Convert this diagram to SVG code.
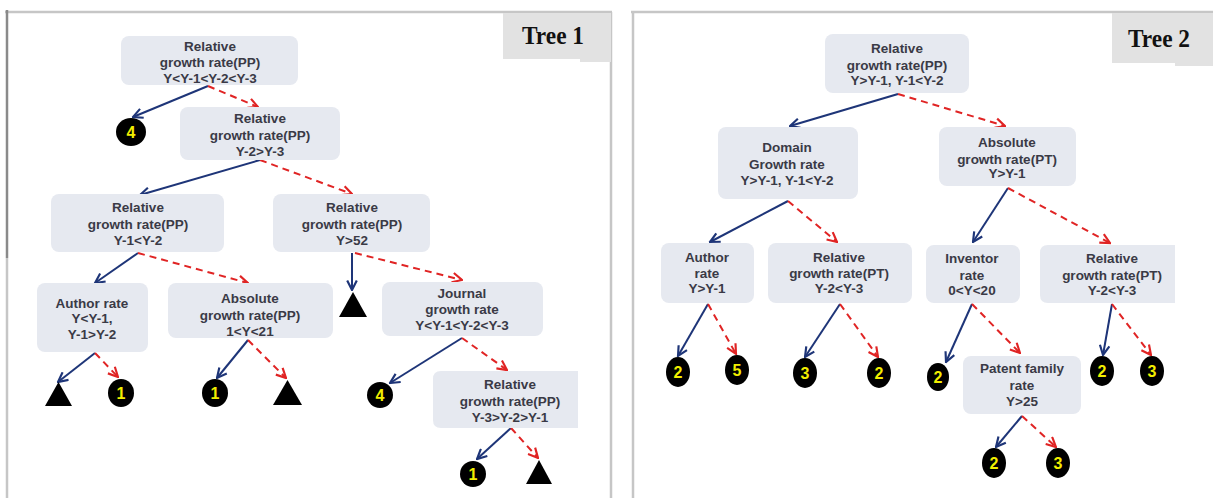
<svg xmlns="http://www.w3.org/2000/svg" width="1213" height="498" viewBox="0 0 1213 498">
<style>
.node rect{fill:#e6e9f0}
.node text{font-family:"Liberation Sans",Arial,sans-serif;font-size:13.5px;font-weight:bold;fill:#3a3a46;text-anchor:middle}
.blue{stroke:#1e3578;stroke-width:2;fill:none;marker-end:url(#ab)}
.red{stroke:#e02424;stroke-width:2;fill:none;stroke-dasharray:7 5;marker-end:url(#ar)}
.leaf ellipse{fill:#000}
.leaf text{font-family:"Liberation Sans",Arial,sans-serif;font-size:16px;font-weight:bold;fill:#f2ee00;text-anchor:middle}
.tri{fill:#000}
.label text{font-family:"Liberation Serif","Times New Roman",serif;font-weight:bold;font-size:26px;fill:#111}
.frame{stroke:#c6c6c6;stroke-width:2.5;fill:none}
</style>
<defs>
<marker id="ab" viewBox="0 0 10 10" refX="9" refY="5" markerWidth="12" markerHeight="12" markerUnits="userSpaceOnUse" orient="auto"><path d="M1,1 L9,5 L1,9" fill="none" stroke="#1e3578" stroke-width="1.8"/></marker>
<marker id="ar" viewBox="0 0 10 10" refX="9" refY="5" markerWidth="12" markerHeight="12" markerUnits="userSpaceOnUse" orient="auto"><path d="M1,1 L9,5 L1,9" fill="none" stroke="#e02424" stroke-width="1.8"/></marker>
</defs>
<rect width="1213" height="498" fill="#fff"/>
<g id="frames">
<path class="frame" d="M5,12 H612 M611,12 V498 M7,258 V498"/>
<path d="M7,10 V258" stroke="#8a8a8a" stroke-width="2.5"/>
<path class="frame" d="M631,12 H1213 M633,12 V498"/>
</g>
<g id="tree1-label" class="label">
<path d="M503,13 H611 V62 H580 V59 H503 Z" fill="#e2e2e2"/>
<text x="522" y="44" textLength="62" lengthAdjust="spacingAndGlyphs">Tree 1</text>
</g>
<g id="tree2-label" class="label">
<path d="M1112,13 H1213 V66 H1175 V63 H1112 Z" fill="#e2e2e2"/>
<text x="1128" y="47" textLength="62" lengthAdjust="spacingAndGlyphs">Tree 2</text>
</g>
<g id="connectors">
<line class="blue" x1="208" y1="86" x2="133" y2="117"/>
<line class="red" x1="208" y1="86" x2="258" y2="107"/>
<line class="blue" x1="260" y1="160" x2="140" y2="195"/>
<line class="red" x1="260" y1="160" x2="352" y2="194"/>
<line class="blue" x1="138" y1="253" x2="95" y2="283"/>
<line class="red" x1="138" y1="253" x2="248" y2="283"/>
<line class="blue" x1="352" y1="253" x2="352" y2="290"/>
<line class="red" x1="355" y1="253" x2="462" y2="280"/>
<line class="blue" x1="95" y1="353" x2="58" y2="382"/>
<line class="red" x1="95" y1="353" x2="118" y2="377"/>
<line class="blue" x1="248" y1="340" x2="217" y2="378"/>
<line class="red" x1="248" y1="340" x2="286" y2="378"/>
<line class="blue" x1="462" y1="338" x2="390" y2="383"/>
<line class="red" x1="462" y1="338" x2="507" y2="370"/>
<line class="blue" x1="511" y1="428" x2="477" y2="459"/>
<line class="red" x1="511" y1="428" x2="538" y2="458"/>
<line class="blue" x1="898" y1="94" x2="790" y2="126"/>
<line class="red" x1="898" y1="94" x2="1005" y2="126"/>
<line class="blue" x1="788" y1="201" x2="710" y2="242"/>
<line class="red" x1="788" y1="201" x2="837" y2="242"/>
<line class="blue" x1="1008" y1="188" x2="973" y2="242"/>
<line class="red" x1="1008" y1="188" x2="1110" y2="243"/>
<line class="blue" x1="708" y1="304" x2="678" y2="356"/>
<line class="red" x1="708" y1="304" x2="736" y2="354"/>
<line class="blue" x1="840" y1="304" x2="805" y2="357"/>
<line class="red" x1="840" y1="304" x2="878" y2="357"/>
<line class="blue" x1="972" y1="304" x2="946" y2="362"/>
<line class="red" x1="972" y1="304" x2="1020" y2="353"/>
<line class="blue" x1="1112" y1="304" x2="1103" y2="355"/>
<line class="red" x1="1112" y1="304" x2="1151" y2="355"/>
<line class="blue" x1="1022" y1="416" x2="996" y2="447"/>
<line class="red" x1="1022" y1="416" x2="1056" y2="447"/>
</g>
<g id="t1-n1" class="node"><rect x="121" y="36" width="177" height="49" rx="8"/><text x="210" y="51">Relative</text><text x="210" y="67">growth rate(PP)</text><text x="210" y="83">Y&lt;Y-1&lt;Y-2&lt;Y-3</text></g>
<g id="t1-n2" class="node"><rect x="180" y="107" width="160" height="53" rx="8"/><text x="260" y="123">Relative</text><text x="260" y="140">growth rate(PP)</text><text x="260" y="156">Y-2&gt;Y-3</text></g>
<g id="t1-n3" class="node"><rect x="51" y="194" width="173" height="58" rx="8"/><text x="138" y="212">Relative</text><text x="138" y="229">growth rate(PP)</text><text x="138" y="245">Y-1&lt;Y-2</text></g>
<g id="t1-n4" class="node"><rect x="273" y="194" width="157" height="58" rx="8"/><text x="352" y="212">Relative</text><text x="352" y="229">growth rate(PP)</text><text x="352" y="245">Y&gt;52</text></g>
<g id="t1-n5" class="node"><rect x="37" y="283" width="111" height="69" rx="8"/><text x="92" y="308">Author rate</text><text x="92" y="323">Y&lt;Y-1,</text><text x="92" y="339">Y-1&gt;Y-2</text></g>
<g id="t1-n6" class="node"><rect x="168" y="283" width="165" height="55" rx="8"/><text x="250" y="303">Absolute</text><text x="250" y="320">growth rate(PP)</text><text x="250" y="336">1&lt;Y&lt;21</text></g>
<g id="t1-n7" class="node"><rect x="382" y="282" width="161" height="54" rx="8"/><text x="462" y="298">Journal</text><text x="462" y="314">growth rate</text><text x="462" y="330">Y&lt;Y-1&lt;Y-2&lt;Y-3</text></g>
<g id="t1-n8" class="node"><path d="M441,371 H578 V428 H441 Q433,428 433,420 V379 Q433,371 441,371 Z" fill="#e6e9f0"/><text x="510" y="389">Relative</text><text x="510" y="406">growth rate(PP)</text><text x="510" y="422">Y-3&gt;Y-2&gt;Y-1</text></g>
<g id="t1-l1" class="leaf"><ellipse cx="131" cy="132" rx="15" ry="14"/><text x="131" y="138">4</text></g>
<g id="t1-l2"><polygon class="tri" points="45,406 72,406 58.5,382"/></g>
<g id="t1-l3" class="leaf"><ellipse cx="121" cy="393" rx="13" ry="14"/><text x="121" y="399">1</text></g>
<g id="t1-l4" class="leaf"><ellipse cx="215" cy="393" rx="13" ry="14"/><text x="215" y="399">1</text></g>
<g id="t1-l5"><polygon class="tri" points="273,405 302,405 287.5,380"/></g>
<g id="t1-l6"><polygon class="tri" points="339,317 367,317 353,292"/></g>
<g id="t1-l7" class="leaf"><ellipse cx="380" cy="395" rx="13" ry="13"/><text x="380" y="401">4</text></g>
<g id="t1-l8" class="leaf"><ellipse cx="473" cy="474" rx="13" ry="13"/><text x="473" y="480">1</text></g>
<g id="t1-l9"><polygon class="tri" points="526,484 552,484 539,460"/></g>
<g id="t2-n1" class="node"><rect x="825" y="34" width="144" height="59" rx="8"/><text x="897" y="53">Relative</text><text x="897" y="70">growth rate(PP)</text><text x="897" y="85">Y&gt;Y-1, Y-1&lt;Y-2</text></g>
<g id="t2-n2" class="node"><rect x="718" y="127" width="140" height="72" rx="8"/><text x="787" y="152">Domain</text><text x="787" y="169">Growth rate</text><text x="787" y="185">Y&gt;Y-1, Y-1&lt;Y-2</text></g>
<g id="t2-n3" class="node"><rect x="939" y="127" width="137" height="59" rx="8"/><text x="1007" y="147">Absolute</text><text x="1007" y="164">growth rate(PT)</text><text x="1007" y="178">Y&gt;Y-1</text></g>
<g id="t2-n4" class="node"><rect x="661" y="243" width="93" height="60" rx="8"/><text x="707" y="262">Author</text><text x="707" y="278">rate</text><text x="707" y="293">Y&gt;Y-1</text></g>
<g id="t2-n5" class="node"><rect x="768" y="243" width="144" height="60" rx="8"/><text x="839" y="262">Relative</text><text x="839" y="278">growth rate(PT)</text><text x="839" y="293">Y-2&lt;Y-3</text></g>
<g id="t2-n6" class="node"><rect x="926" y="245" width="94" height="58" rx="8"/><text x="972" y="263">Inventor</text><text x="972" y="280">rate</text><text x="972" y="295">0&lt;Y&lt;20</text></g>
<g id="t2-n7" class="node"><path d="M1048,245 H1175 V303 H1048 Q1040,303 1040,295 V253 Q1040,245 1048,245 Z" fill="#e6e9f0"/><text x="1112" y="263">Relative</text><text x="1112" y="280">growth rate(PT)</text><text x="1112" y="295">Y-2&lt;Y-3</text></g>
<g id="t2-n8" class="node"><rect x="963" y="356" width="118" height="58" rx="8"/><text x="1022" y="373">Patent family</text><text x="1022" y="390">rate</text><text x="1022" y="406">Y&gt;25</text></g>
<g id="t2-l1" class="leaf"><ellipse cx="678" cy="372" rx="12" ry="15"/><text x="678" y="378">2</text></g>
<g id="t2-l2" class="leaf"><ellipse cx="737" cy="370" rx="12" ry="15"/><text x="737" y="376">5</text></g>
<g id="t2-l3" class="leaf"><ellipse cx="805" cy="373" rx="12" ry="15"/><text x="805" y="379">3</text></g>
<g id="t2-l4" class="leaf"><ellipse cx="879" cy="373" rx="12" ry="15"/><text x="879" y="379">2</text></g>
<g id="t2-l5" class="leaf"><ellipse cx="938" cy="377" rx="11" ry="14"/><text x="938" y="383">2</text></g>
<g id="t2-l6" class="leaf"><ellipse cx="1102" cy="371" rx="12" ry="15"/><text x="1102" y="377">2</text></g>
<g id="t2-l7" class="leaf"><ellipse cx="1152" cy="371" rx="12" ry="15"/><text x="1152" y="377">3</text></g>
<g id="t2-l8" class="leaf"><ellipse cx="994" cy="463" rx="12" ry="15"/><text x="994" y="469">2</text></g>
<g id="t2-l9" class="leaf"><ellipse cx="1058" cy="463" rx="12" ry="15"/><text x="1058" y="469">3</text></g>
</svg>
